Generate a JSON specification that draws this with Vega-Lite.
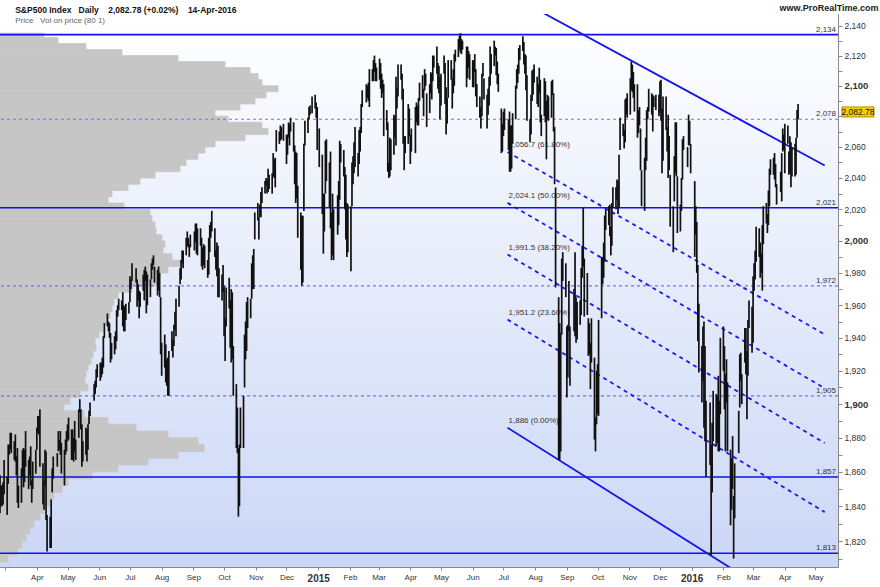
{
"$schema": "https://vega.github.io/schema/vega-lite/v6.json",
"width": 838, "height": 553,
"autosize": {"type": "none"},
"padding": {"top": 14, "left": 0, "right": 42, "bottom": 20},
"background": "#ffffff",
"config": {"font": "Liberation Sans", "view": {"stroke": "#9aa4ae", "strokeWidth": 1}},
"title": {"text": "S&P500 Index\u00a0\u00a0\u00a0Daily\u00a0\u00a0\u00a0\u00a02,082.78 (+0.02%)\u00a0\u00a0\u00a0\u00a014-Apr-2016", "subtitle": "Price\u00a0\u00a0\u00a0Vol on price (80 1)", "anchor": "start", "offset": -22, "dx": 16, "fontSize": 8.5, "fontWeight": "bold", "color": "#111", "subtitleFontSize": 8, "subtitleColor": "#666", "subtitlePadding": 3},
"datasets": {
"hist": [
{"lo":1808,"hi":1812,"v":8},{"lo":1812,"hi":1816,"v":18},{"lo":1816,"hi":1820,"v":22},{"lo":1820,"hi":1824,"v":26},{"lo":1824,"hi":1828,"v":30},{"lo":1828,"hi":1832,"v":34},{"lo":1832,"hi":1836,"v":40},{"lo":1836,"hi":1840,"v":44},{"lo":1840,"hi":1844,"v":50},{"lo":1844,"hi":1848,"v":54},{"lo":1848,"hi":1852,"v":62},{"lo":1852,"hi":1856,"v":68},{"lo":1856,"hi":1860,"v":92},{"lo":1860,"hi":1864,"v":118},{"lo":1864,"hi":1868,"v":148},{"lo":1868,"hi":1872,"v":178},{"lo":1872,"hi":1876,"v":204},{"lo":1876,"hi":1880,"v":198},{"lo":1880,"hi":1884,"v":168},{"lo":1884,"hi":1888,"v":136},{"lo":1888,"hi":1892,"v":108},{"lo":1892,"hi":1896,"v":84},{"lo":1896,"hi":1900,"v":64},{"lo":1900,"hi":1904,"v":70},{"lo":1904,"hi":1908,"v":80},{"lo":1908,"hi":1912,"v":88},{"lo":1912,"hi":1916,"v":85},{"lo":1916,"hi":1920,"v":86},{"lo":1920,"hi":1924,"v":88},{"lo":1924,"hi":1928,"v":91},{"lo":1928,"hi":1932,"v":93},{"lo":1932,"hi":1936,"v":96},{"lo":1936,"hi":1940,"v":95},{"lo":1940,"hi":1944,"v":99},{"lo":1944,"hi":1948,"v":103},{"lo":1948,"hi":1952,"v":107},{"lo":1952,"hi":1956,"v":110},{"lo":1956,"hi":1960,"v":112},{"lo":1960,"hi":1964,"v":114},{"lo":1964,"hi":1968,"v":118},{"lo":1968,"hi":1972,"v":132},{"lo":1972,"hi":1976,"v":157},{"lo":1976,"hi":1980,"v":160},{"lo":1980,"hi":1984,"v":168},{"lo":1984,"hi":1988,"v":182},{"lo":1988,"hi":1992,"v":172},{"lo":1992,"hi":1996,"v":163},{"lo":1996,"hi":2000,"v":165},{"lo":2000,"hi":2004,"v":162},{"lo":2004,"hi":2008,"v":156},{"lo":2008,"hi":2012,"v":155},{"lo":2012,"hi":2016,"v":152},{"lo":2016,"hi":2020,"v":150},{"lo":2020,"hi":2024,"v":124},{"lo":2024,"hi":2028,"v":108},{"lo":2028,"hi":2032,"v":112},{"lo":2032,"hi":2036,"v":128},{"lo":2036,"hi":2040,"v":140},{"lo":2040,"hi":2044,"v":155},{"lo":2044,"hi":2048,"v":180},{"lo":2048,"hi":2052,"v":186},{"lo":2052,"hi":2056,"v":198},{"lo":2056,"hi":2060,"v":205},{"lo":2060,"hi":2064,"v":215},{"lo":2064,"hi":2068,"v":245},{"lo":2068,"hi":2072,"v":268},{"lo":2072,"hi":2076,"v":262},{"lo":2076,"hi":2080,"v":228},{"lo":2080,"hi":2084,"v":215},{"lo":2084,"hi":2088,"v":240},{"lo":2088,"hi":2092,"v":255},{"lo":2092,"hi":2096,"v":266},{"lo":2096,"hi":2100,"v":278},{"lo":2100,"hi":2104,"v":262},{"lo":2104,"hi":2108,"v":258},{"lo":2108,"hi":2112,"v":250},{"lo":2112,"hi":2116,"v":225},{"lo":2116,"hi":2120,"v":178},{"lo":2120,"hi":2124,"v":122},{"lo":2124,"hi":2128,"v":86},{"lo":2128,"hi":2132,"v":58},{"lo":2132,"hi":2135,"v":44}
],
"solidLevels": [{"p":2134},{"p":2021},{"p":1857},{"p":1813}],
"dashedLevels": [{"p":2078},{"p":1972},{"p":1905}],
"levelLabels": [{"p":2134,"t":"2,134"},{"p":2078,"t":"2,078"},{"p":2021,"t":"2,021"},{"p":1972,"t":"1,972"},{"p":1905,"t":"1,905"},{"p":1857,"t":"1,857"},{"p":1813,"t":"1,813"}],
"channel": [
{"id":"f236","d":"2015-07-05","p":1951.2},{"id":"f236","d":"2016-05-10","p":1836.6},
{"id":"f382","d":"2015-07-05","p":1991.5},{"id":"f382","d":"2016-05-10","p":1876.9},
{"id":"f500","d":"2015-07-05","p":2024.1},{"id":"f500","d":"2016-05-10","p":1909.5},
{"id":"f618","d":"2015-07-05","p":2056.7},{"id":"f618","d":"2016-05-10","p":1942.1}
],
"trend": [
{"id":"f000","d":"2015-07-05","p":1886},{"id":"f000","d":"2016-05-10","p":1771.4},
{"id":"top","d":"2015-08-01","p":2151.6},{"id":"top","d":"2016-05-10","p":2048}
],
"fibLabels": [
{"d":"2015-07-05","p":1886,"t":"1,886 (0.00%)"},
{"d":"2015-07-05","p":1951.2,"t":"1,951.2 (23.60%)"},
{"d":"2015-07-05","p":1991.5,"t":"1,991.5 (38.20%)"},
{"d":"2015-07-05","p":2024.1,"t":"2,024.1 (50.00%)"},
{"d":"2015-07-05","p":2056.7,"t":"2,056.7 (61.80%)"}
],
"last": [{"p":2082.78,"t":"2,082.78"}],
"candles": [
{"d":"2014-02-24","h":1858,"l":1836},{"d":"2014-02-25","h":1852,"l":1840},{"d":"2014-02-26","h":1852,"l":1840},{"d":"2014-02-27","h":1854,"l":1841},{"d":"2014-02-28","h":1867,"l":1847},
{"d":"2014-03-03","h":1857,"l":1835},{"d":"2014-03-04","h":1876,"l":1853},{"d":"2014-03-05","h":1876,"l":1870},{"d":"2014-03-06","h":1883,"l":1873},{"d":"2014-03-07","h":1883,"l":1871},{"d":"2014-03-10","h":1878,"l":1867},{"d":"2014-03-11","h":1882,"l":1866},{"d":"2014-03-12","h":1869,"l":1858},{"d":"2014-03-13","h":1874,"l":1842},{"d":"2014-03-14","h":1852,"l":1839},{"d":"2014-03-17","h":1862,"l":1842},{"d":"2014-03-18","h":1873,"l":1857},{"d":"2014-03-19","h":1874,"l":1851},{"d":"2014-03-20","h":1873,"l":1854},{"d":"2014-03-21","h":1884,"l":1863},{"d":"2014-03-24","h":1867,"l":1850},{"d":"2014-03-25","h":1869,"l":1858},{"d":"2014-03-26","h":1875,"l":1852},{"d":"2014-03-27","h":1855,"l":1842},{"d":"2014-03-28","h":1866,"l":1850},{"d":"2014-03-31","h":1873,"l":1859},
{"d":"2014-04-01","h":1886,"l":1873},{"d":"2014-04-02","h":1893,"l":1883},{"d":"2014-04-03","h":1893,"l":1882},{"d":"2014-04-04","h":1897,"l":1863},{"d":"2014-04-07","h":1865,"l":1841},{"d":"2014-04-08","h":1855,"l":1838},{"d":"2014-04-09","h":1873,"l":1852},{"d":"2014-04-10","h":1872,"l":1832},{"d":"2014-04-11","h":1835,"l":1814},{"d":"2014-04-14","h":1834,"l":1816},{"d":"2014-04-15","h":1844,"l":1816},{"d":"2014-04-16","h":1862,"l":1848},{"d":"2014-04-17","h":1869,"l":1856},{"d":"2014-04-21","h":1871,"l":1863},{"d":"2014-04-22","h":1884,"l":1872},{"d":"2014-04-23","h":1879,"l":1873},{"d":"2014-04-24","h":1884,"l":1870},{"d":"2014-04-25","h":1877,"l":1859},{"d":"2014-04-28","h":1873,"l":1852},{"d":"2014-04-29","h":1879,"l":1870},{"d":"2014-04-30","h":1884,"l":1872},
{"d":"2014-05-01","h":1888,"l":1878},{"d":"2014-05-02","h":1892,"l":1879},{"d":"2014-05-05","h":1885,"l":1867},{"d":"2014-05-06","h":1885,"l":1867},{"d":"2014-05-07","h":1880,"l":1866},{"d":"2014-05-08","h":1890,"l":1872},{"d":"2014-05-09","h":1879,"l":1867},{"d":"2014-05-12","h":1897,"l":1880},{"d":"2014-05-13","h":1903,"l":1895},{"d":"2014-05-14","h":1897,"l":1885},{"d":"2014-05-15","h":1888,"l":1863},{"d":"2014-05-16","h":1878,"l":1866},{"d":"2014-05-19","h":1886,"l":1870},{"d":"2014-05-20","h":1885,"l":1866},{"d":"2014-05-21","h":1888,"l":1873},{"d":"2014-05-22","h":1896,"l":1888},{"d":"2014-05-23","h":1901,"l":1893},{"d":"2014-05-27","h":1912,"l":1902},{"d":"2014-05-28","h":1914,"l":1906},{"d":"2014-05-29","h":1921,"l":1910},{"d":"2014-05-30","h":1924,"l":1916},
{"d":"2014-06-02","h":1925,"l":1914},{"d":"2014-06-03","h":1925,"l":1916},{"d":"2014-06-04","h":1928,"l":1918},{"d":"2014-06-05","h":1941,"l":1922},{"d":"2014-06-06","h":1949,"l":1940},{"d":"2014-06-09","h":1955,"l":1947},{"d":"2014-06-10","h":1950,"l":1944},{"d":"2014-06-11","h":1949,"l":1940},{"d":"2014-06-12","h":1943,"l":1925},{"d":"2014-06-13","h":1937,"l":1927},{"d":"2014-06-16","h":1941,"l":1930},{"d":"2014-06-17","h":1944,"l":1933},{"d":"2014-06-18","h":1957,"l":1938},{"d":"2014-06-19","h":1960,"l":1953},{"d":"2014-06-20","h":1964,"l":1957},{"d":"2014-06-23","h":1963,"l":1957},{"d":"2014-06-24","h":1968,"l":1947},{"d":"2014-06-25","h":1960,"l":1944},{"d":"2014-06-26","h":1959,"l":1944},{"d":"2014-06-27","h":1961,"l":1951},{"d":"2014-06-30","h":1962,"l":1955},
{"d":"2014-07-01","h":1978,"l":1962},{"d":"2014-07-02","h":1976,"l":1970},{"d":"2014-07-03","h":1986,"l":1975},{"d":"2014-07-07","h":1983,"l":1974},{"d":"2014-07-08","h":1976,"l":1959},{"d":"2014-07-09","h":1973,"l":1963},{"d":"2014-07-10","h":1969,"l":1952},{"d":"2014-07-11","h":1968,"l":1959},{"d":"2014-07-14","h":1979,"l":1969},{"d":"2014-07-15","h":1982,"l":1963},{"d":"2014-07-16","h":1984,"l":1975},{"d":"2014-07-17","h":1981,"l":1955},{"d":"2014-07-18","h":1979,"l":1960},{"d":"2014-07-21","h":1976,"l":1965},{"d":"2014-07-22","h":1986,"l":1976},{"d":"2014-07-23","h":1989,"l":1982},{"d":"2014-07-24","h":1991,"l":1985},{"d":"2014-07-25","h":1984,"l":1974},{"d":"2014-07-28","h":1982,"l":1966},{"d":"2014-07-29","h":1984,"l":1969},{"d":"2014-07-30","h":1980,"l":1965},{"d":"2014-07-31","h":1965,"l":1930},
{"d":"2014-08-01","h":1937,"l":1917},{"d":"2014-08-04","h":1942,"l":1922},{"d":"2014-08-05","h":1936,"l":1913},{"d":"2014-08-06","h":1927,"l":1911},{"d":"2014-08-07","h":1928,"l":1905},{"d":"2014-08-08","h":1932,"l":1905},{"d":"2014-08-11","h":1944,"l":1932},{"d":"2014-08-12","h":1939,"l":1928},{"d":"2014-08-13","h":1948,"l":1935},{"d":"2014-08-14","h":1956,"l":1945},{"d":"2014-08-15","h":1964,"l":1941},{"d":"2014-08-18","h":1972,"l":1959},{"d":"2014-08-19","h":1983,"l":1973},{"d":"2014-08-20","h":1988,"l":1976},{"d":"2014-08-21","h":1994,"l":1986},{"d":"2014-08-22","h":1994,"l":1983},{"d":"2014-08-25","h":2002,"l":1991},{"d":"2014-08-26","h":2006,"l":1997},{"d":"2014-08-27","h":2002,"l":1996},{"d":"2014-08-28","h":1998,"l":1990},{"d":"2014-08-29","h":2004,"l":1996},
{"d":"2014-09-02","h":2006,"l":1994},{"d":"2014-09-03","h":2011,"l":1999},{"d":"2014-09-04","h":2011,"l":1992},{"d":"2014-09-05","h":2008,"l":1991},{"d":"2014-09-08","h":2008,"l":1997},{"d":"2014-09-09","h":2002,"l":1984},{"d":"2014-09-10","h":1996,"l":1982},{"d":"2014-09-11","h":1998,"l":1985},{"d":"2014-09-12","h":1997,"l":1983},{"d":"2014-09-15","h":1988,"l":1977},{"d":"2014-09-16","h":2002,"l":1979},{"d":"2014-09-17","h":2010,"l":1993},{"d":"2014-09-18","h":2012,"l":2002},{"d":"2014-09-19","h":2019,"l":2006},{"d":"2014-09-22","h":2008,"l":1990},{"d":"2014-09-23","h":1994,"l":1982},{"d":"2014-09-24","h":1999,"l":1978},{"d":"2014-09-25","h":1997,"l":1965},{"d":"2014-09-26","h":1983,"l":1965},{"d":"2014-09-29","h":1979,"l":1963},{"d":"2014-09-30","h":1985,"l":1968},
{"d":"2014-10-01","h":1972,"l":1941},{"d":"2014-10-02","h":1952,"l":1926},{"d":"2014-10-03","h":1971,"l":1947},{"d":"2014-10-06","h":1977,"l":1958},{"d":"2014-10-07","h":1963,"l":1934},{"d":"2014-10-08","h":1970,"l":1925},{"d":"2014-10-09","h":1968,"l":1927},{"d":"2014-10-10","h":1935,"l":1905},{"d":"2014-10-13","h":1912,"l":1874},{"d":"2014-10-14","h":1898,"l":1871},{"d":"2014-10-15","h":1874,"l":1834},{"d":"2014-10-16","h":1876,"l":1840},{"d":"2014-10-17","h":1898,"l":1874},{"d":"2014-10-20","h":1905,"l":1874},{"d":"2014-10-21","h":1942,"l":1910},{"d":"2014-10-22","h":1950,"l":1927},{"d":"2014-10-23","h":1962,"l":1932},{"d":"2014-10-24","h":1965,"l":1946},{"d":"2014-10-27","h":1964,"l":1952},{"d":"2014-10-28","h":1986,"l":1964},{"d":"2014-10-29","h":1991,"l":1970},{"d":"2014-10-30","h":1995,"l":1970},{"d":"2014-10-31","h":2018,"l":2001},
{"d":"2014-11-03","h":2024,"l":2013},{"d":"2014-11-04","h":2015,"l":2001},{"d":"2014-11-05","h":2023,"l":2015},{"d":"2014-11-06","h":2031,"l":2015},{"d":"2014-11-07","h":2034,"l":2024},{"d":"2014-11-10","h":2038,"l":2030},{"d":"2014-11-11","h":2040,"l":2035},{"d":"2014-11-12","h":2039,"l":2030},{"d":"2014-11-13","h":2046,"l":2031},{"d":"2014-11-14","h":2042,"l":2033},{"d":"2014-11-17","h":2043,"l":2030},{"d":"2014-11-18","h":2056,"l":2041},{"d":"2014-11-19","h":2052,"l":2040},{"d":"2014-11-20","h":2053,"l":2034},{"d":"2014-11-21","h":2071,"l":2057},{"d":"2014-11-24","h":2070,"l":2062},{"d":"2014-11-25","h":2074,"l":2064},{"d":"2014-11-26","h":2073,"l":2065},{"d":"2014-11-28","h":2075,"l":2064},
{"d":"2014-12-01","h":2068,"l":2049},{"d":"2014-12-02","h":2068,"l":2055},{"d":"2014-12-03","h":2076,"l":2066},{"d":"2014-12-04","h":2075,"l":2061},{"d":"2014-12-05","h":2079,"l":2070},{"d":"2014-12-08","h":2076,"l":2057},{"d":"2014-12-09","h":2061,"l":2036},{"d":"2014-12-10","h":2057,"l":2024},{"d":"2014-12-11","h":2056,"l":2027},{"d":"2014-12-12","h":2035,"l":2002},{"d":"2014-12-15","h":2018,"l":1982},{"d":"2014-12-16","h":2016,"l":1972},{"d":"2014-12-17","h":2016,"l":1974},{"d":"2014-12-18","h":2062,"l":2019},{"d":"2014-12-19","h":2077,"l":2061},{"d":"2014-12-22","h":2079,"l":2069},{"d":"2014-12-23","h":2086,"l":2078},{"d":"2014-12-24","h":2087,"l":2081},{"d":"2014-12-26","h":2093,"l":2082},{"d":"2014-12-29","h":2094,"l":2085},{"d":"2014-12-30","h":2089,"l":2079},{"d":"2014-12-31","h":2086,"l":2058},
{"d":"2015-01-02","h":2072,"l":2047},{"d":"2015-01-05","h":2055,"l":2017},{"d":"2015-01-06","h":2030,"l":1992},{"d":"2015-01-07","h":2030,"l":2006},{"d":"2015-01-08","h":2064,"l":2030},{"d":"2015-01-09","h":2065,"l":2038},{"d":"2015-01-12","h":2050,"l":2021},{"d":"2015-01-13","h":2057,"l":2008},{"d":"2015-01-14","h":2018,"l":1988},{"d":"2015-01-15","h":2030,"l":1991},{"d":"2015-01-16","h":2020,"l":1988},{"d":"2015-01-20","h":2029,"l":2004},{"d":"2015-01-21","h":2038,"l":2010},{"d":"2015-01-22","h":2064,"l":2026},{"d":"2015-01-23","h":2062,"l":2050},{"d":"2015-01-26","h":2058,"l":2041},{"d":"2015-01-27","h":2047,"l":2020},{"d":"2015-01-28","h":2042,"l":2001},{"d":"2015-01-29","h":2024,"l":1990},{"d":"2015-01-30","h":2023,"l":1993},
{"d":"2015-02-02","h":2022,"l":1981},{"d":"2015-02-03","h":2050,"l":2022},{"d":"2015-02-04","h":2054,"l":2036},{"d":"2015-02-05","h":2063,"l":2043},{"d":"2015-02-06","h":2073,"l":2047},{"d":"2015-02-09","h":2056,"l":2041},{"d":"2015-02-10","h":2071,"l":2049},{"d":"2015-02-11","h":2073,"l":2057},{"d":"2015-02-12","h":2088,"l":2069},{"d":"2015-02-13","h":2097,"l":2086},{"d":"2015-02-17","h":2101,"l":2089},{"d":"2015-02-18","h":2100,"l":2092},{"d":"2015-02-19","h":2102,"l":2090},{"d":"2015-02-20","h":2111,"l":2086},{"d":"2015-02-23","h":2111,"l":2103},{"d":"2015-02-24","h":2117,"l":2103},{"d":"2015-02-25","h":2120,"l":2109},{"d":"2015-02-26","h":2115,"l":2103},{"d":"2015-02-27","h":2112,"l":2103},
{"d":"2015-03-02","h":2118,"l":2104},{"d":"2015-03-03","h":2115,"l":2098},{"d":"2015-03-04","h":2108,"l":2092},{"d":"2015-03-05","h":2104,"l":2095},{"d":"2015-03-06","h":2101,"l":2067},{"d":"2015-03-09","h":2084,"l":2071},{"d":"2015-03-10","h":2076,"l":2044},{"d":"2015-03-11","h":2050,"l":2040},{"d":"2015-03-12","h":2066,"l":2041},{"d":"2015-03-13","h":2065,"l":2045},{"d":"2015-03-16","h":2081,"l":2055},{"d":"2015-03-17","h":2080,"l":2066},{"d":"2015-03-18","h":2106,"l":2061},{"d":"2015-03-19","h":2099,"l":2085},{"d":"2015-03-20","h":2114,"l":2093},{"d":"2015-03-23","h":2114,"l":2104},{"d":"2015-03-24","h":2108,"l":2091},{"d":"2015-03-25","h":2098,"l":2062},{"d":"2015-03-26","h":2067,"l":2045},{"d":"2015-03-27","h":2067,"l":2056},{"d":"2015-03-30","h":2088,"l":2062},{"d":"2015-03-31","h":2085,"l":2067},
{"d":"2015-04-01","h":2068,"l":2049},{"d":"2015-04-02","h":2072,"l":2057},{"d":"2015-04-06","h":2086,"l":2056},{"d":"2015-04-07","h":2089,"l":2076},{"d":"2015-04-08","h":2087,"l":2074},{"d":"2015-04-09","h":2092,"l":2074},{"d":"2015-04-10","h":2102,"l":2090},{"d":"2015-04-13","h":2107,"l":2092},{"d":"2015-04-14","h":2098,"l":2080},{"d":"2015-04-15","h":2111,"l":2097},{"d":"2015-04-16","h":2108,"l":2100},{"d":"2015-04-17","h":2095,"l":2073},{"d":"2015-04-20","h":2101,"l":2082},{"d":"2015-04-21","h":2109,"l":2095},{"d":"2015-04-22","h":2108,"l":2091},{"d":"2015-04-23","h":2120,"l":2103},{"d":"2015-04-24","h":2120,"l":2112},{"d":"2015-04-27","h":2126,"l":2108},{"d":"2015-04-28","h":2115,"l":2098},{"d":"2015-04-29","h":2113,"l":2095},{"d":"2015-04-30","h":2106,"l":2078},
{"d":"2015-05-01","h":2108,"l":2087},{"d":"2015-05-04","h":2120,"l":2108},{"d":"2015-05-05","h":2115,"l":2088},{"d":"2015-05-06","h":2099,"l":2068},{"d":"2015-05-07","h":2092,"l":2075},{"d":"2015-05-08","h":2117,"l":2092},{"d":"2015-05-11","h":2117,"l":2104},{"d":"2015-05-12","h":2105,"l":2085},{"d":"2015-05-13","h":2111,"l":2095},{"d":"2015-05-14","h":2121,"l":2100},{"d":"2015-05-15","h":2124,"l":2116},{"d":"2015-05-18","h":2131,"l":2119},{"d":"2015-05-19","h":2133,"l":2124},{"d":"2015-05-20","h":2135,"l":2122},{"d":"2015-05-21","h":2131,"l":2121},{"d":"2015-05-22","h":2130,"l":2124},{"d":"2015-05-26","h":2126,"l":2099},{"d":"2015-05-27","h":2126,"l":2105},{"d":"2015-05-28","h":2123,"l":2112},{"d":"2015-05-29","h":2121,"l":2104},
{"d":"2015-06-01","h":2117,"l":2099},{"d":"2015-06-02","h":2117,"l":2099},{"d":"2015-06-03","h":2121,"l":2109},{"d":"2015-06-04","h":2111,"l":2093},{"d":"2015-06-05","h":2101,"l":2086},{"d":"2015-06-08","h":2093,"l":2079},{"d":"2015-06-09","h":2086,"l":2072},{"d":"2015-06-10","h":2108,"l":2080},{"d":"2015-06-11","h":2115,"l":2106},{"d":"2015-06-12","h":2105,"l":2091},{"d":"2015-06-15","h":2094,"l":2072},{"d":"2015-06-16","h":2098,"l":2081},{"d":"2015-06-17","h":2106,"l":2087},{"d":"2015-06-18","h":2126,"l":2100},{"d":"2015-06-19","h":2121,"l":2108},{"d":"2015-06-22","h":2130,"l":2113},{"d":"2015-06-23","h":2126,"l":2120},{"d":"2015-06-24","h":2125,"l":2107},{"d":"2015-06-25","h":2116,"l":2101},{"d":"2015-06-26","h":2108,"l":2096},{"d":"2015-06-29","h":2085,"l":2056},{"d":"2015-06-30","h":2075,"l":2057},
{"d":"2015-07-01","h":2083,"l":2067},{"d":"2015-07-02","h":2085,"l":2071},{"d":"2015-07-06","h":2078,"l":2058},{"d":"2015-07-07","h":2083,"l":2044},{"d":"2015-07-08","h":2074,"l":2044},{"d":"2015-07-09","h":2074,"l":2046},{"d":"2015-07-10","h":2082,"l":2062},{"d":"2015-07-13","h":2100,"l":2078},{"d":"2015-07-14","h":2111,"l":2098},{"d":"2015-07-15","h":2114,"l":2102},{"d":"2015-07-16","h":2125,"l":2108},{"d":"2015-07-17","h":2127,"l":2117},{"d":"2015-07-20","h":2133,"l":2123},{"d":"2015-07-21","h":2129,"l":2114},{"d":"2015-07-22","h":2121,"l":2108},{"d":"2015-07-23","h":2120,"l":2097},{"d":"2015-07-24","h":2107,"l":2077},{"d":"2015-07-27","h":2078,"l":2063},{"d":"2015-07-28","h":2094,"l":2068},{"d":"2015-07-29","h":2110,"l":2090},{"d":"2015-07-30","h":2111,"l":2094},{"d":"2015-07-31","h":2114,"l":2102},
{"d":"2015-08-03","h":2106,"l":2088},{"d":"2015-08-04","h":2101,"l":2086},{"d":"2015-08-05","h":2112,"l":2095},{"d":"2015-08-06","h":2104,"l":2076},{"d":"2015-08-07","h":2081,"l":2067},{"d":"2015-08-10","h":2105,"l":2080},{"d":"2015-08-11","h":2103,"l":2076},{"d":"2015-08-12","h":2090,"l":2052},{"d":"2015-08-13","h":2094,"l":2078},{"d":"2015-08-14","h":2093,"l":2077},{"d":"2015-08-17","h":2103,"l":2079},{"d":"2015-08-18","h":2104,"l":2094},{"d":"2015-08-19","h":2095,"l":2070},{"d":"2015-08-20","h":2073,"l":2036},{"d":"2015-08-21","h":2034,"l":1971},{"d":"2015-08-24","h":1965,"l":1867},{"d":"2015-08-25","h":1949,"l":1867},{"d":"2015-08-26","h":1943,"l":1872},{"d":"2015-08-27","h":1989,"l":1942},{"d":"2015-08-28","h":1993,"l":1975},{"d":"2015-08-31","h":1986,"l":1965},
{"d":"2015-09-01","h":1947,"l":1904},{"d":"2015-09-02","h":1948,"l":1916},{"d":"2015-09-03","h":1975,"l":1944},{"d":"2015-09-04","h":1947,"l":1911},{"d":"2015-09-08","h":1970,"l":1944},{"d":"2015-09-09","h":1993,"l":1941},{"d":"2015-09-10","h":1965,"l":1937},{"d":"2015-09-11","h":1962,"l":1939},{"d":"2015-09-14","h":1963,"l":1948},{"d":"2015-09-15","h":1983,"l":1954},{"d":"2015-09-16","h":1997,"l":1977},{"d":"2015-09-17","h":2021,"l":1984},{"d":"2015-09-18","h":1989,"l":1953},{"d":"2015-09-21","h":1980,"l":1954},{"d":"2015-09-22","h":1952,"l":1929},{"d":"2015-09-23","h":1949,"l":1930},{"d":"2015-09-24","h":1937,"l":1909},{"d":"2015-09-25","h":1952,"l":1925},{"d":"2015-09-28","h":1928,"l":1879},{"d":"2015-09-29","h":1892,"l":1872},{"d":"2015-09-30","h":1920,"l":1888},
{"d":"2015-10-01","h":1924,"l":1894},{"d":"2015-10-02","h":1951,"l":1893},{"d":"2015-10-05","h":1990,"l":1952},{"d":"2015-10-06","h":1990,"l":1973},{"d":"2015-10-07","h":1999,"l":1977},{"d":"2015-10-08","h":2016,"l":1987},{"d":"2015-10-09","h":2020,"l":2007},{"d":"2015-10-12","h":2022,"l":2010},{"d":"2015-10-13","h":2023,"l":2003},{"d":"2015-10-14","h":2009,"l":1991},{"d":"2015-10-15","h":2024,"l":1997},{"d":"2015-10-16","h":2034,"l":2021},{"d":"2015-10-19","h":2034,"l":2020},{"d":"2015-10-20","h":2039,"l":2026},{"d":"2015-10-21","h":2038,"l":2017},{"d":"2015-10-22","h":2055,"l":2021},{"d":"2015-10-23","h":2079,"l":2058},{"d":"2015-10-26","h":2075,"l":2067},{"d":"2015-10-27","h":2071,"l":2059},{"d":"2015-10-28","h":2091,"l":2063},{"d":"2015-10-29","h":2092,"l":2081},{"d":"2015-10-30","h":2095,"l":2079},
{"d":"2015-11-02","h":2105,"l":2081},{"d":"2015-11-03","h":2116,"l":2097},{"d":"2015-11-04","h":2114,"l":2096},{"d":"2015-11-05","h":2109,"l":2092},{"d":"2015-11-06","h":2101,"l":2083},{"d":"2015-11-09","h":2101,"l":2066},{"d":"2015-11-10","h":2084,"l":2069},{"d":"2015-11-11","h":2086,"l":2074},{"d":"2015-11-12","h":2072,"l":2045},{"d":"2015-11-13","h":2045,"l":2022},{"d":"2015-11-16","h":2053,"l":2019},{"d":"2015-11-17","h":2066,"l":2045},{"d":"2015-11-18","h":2084,"l":2051},{"d":"2015-11-19","h":2086,"l":2078},{"d":"2015-11-20","h":2098,"l":2083},{"d":"2015-11-23","h":2095,"l":2081},{"d":"2015-11-24","h":2094,"l":2070},{"d":"2015-11-25","h":2093,"l":2086},{"d":"2015-11-27","h":2094,"l":2084},{"d":"2015-11-30","h":2094,"l":2080},
{"d":"2015-12-01","h":2103,"l":2082},{"d":"2015-12-02","h":2104,"l":2077},{"d":"2015-12-03","h":2085,"l":2043},{"d":"2015-12-04","h":2093,"l":2051},{"d":"2015-12-07","h":2093,"l":2071},{"d":"2015-12-08","h":2073,"l":2057},{"d":"2015-12-09","h":2081,"l":2040},{"d":"2015-12-10","h":2067,"l":2045},{"d":"2015-12-11","h":2042,"l":2009},{"d":"2015-12-14","h":2022,"l":1993},{"d":"2015-12-15","h":2054,"l":2025},{"d":"2015-12-16","h":2076,"l":2043},{"d":"2015-12-17","h":2076,"l":2041},{"d":"2015-12-18","h":2041,"l":2005},{"d":"2015-12-21","h":2023,"l":2006},{"d":"2015-12-22","h":2040,"l":2019},{"d":"2015-12-23","h":2065,"l":2039},{"d":"2015-12-24","h":2067,"l":2058},{"d":"2015-12-28","h":2060,"l":2047},{"d":"2015-12-29","h":2081,"l":2061},{"d":"2015-12-30","h":2077,"l":2061},{"d":"2015-12-31","h":2062,"l":2043},
{"d":"2016-01-04","h":2038,"l":1990},{"d":"2016-01-05","h":2022,"l":2004},{"d":"2016-01-06","h":2012,"l":1980},{"d":"2016-01-07","h":1985,"l":1938},{"d":"2016-01-08","h":1961,"l":1919},{"d":"2016-01-11","h":1935,"l":1901},{"d":"2016-01-12","h":1947,"l":1914},{"d":"2016-01-13","h":1950,"l":1886},{"d":"2016-01-14","h":1935,"l":1878},{"d":"2016-01-15","h":1902,"l":1857},{"d":"2016-01-19","h":1901,"l":1864},{"d":"2016-01-20","h":1876,"l":1812},{"d":"2016-01-21","h":1889,"l":1848},{"d":"2016-01-22","h":1908,"l":1878},{"d":"2016-01-25","h":1906,"l":1875},{"d":"2016-01-26","h":1905,"l":1877},{"d":"2016-01-27","h":1917,"l":1872},{"d":"2016-01-28","h":1902,"l":1872},{"d":"2016-01-29","h":1940,"l":1894},
{"d":"2016-02-01","h":1947,"l":1920},{"d":"2016-02-02","h":1935,"l":1897},{"d":"2016-02-03","h":1918,"l":1872},{"d":"2016-02-04","h":1927,"l":1901},{"d":"2016-02-05","h":1913,"l":1872},{"d":"2016-02-08","h":1873,"l":1829},{"d":"2016-02-09","h":1868,"l":1838},{"d":"2016-02-10","h":1881,"l":1850},{"d":"2016-02-11","h":1846,"l":1810},{"d":"2016-02-12","h":1865,"l":1833},{"d":"2016-02-16","h":1896,"l":1871},{"d":"2016-02-17","h":1930,"l":1898},{"d":"2016-02-18","h":1931,"l":1914},{"d":"2016-02-19","h":1918,"l":1900},{"d":"2016-02-22","h":1946,"l":1925},{"d":"2016-02-23","h":1946,"l":1918},{"d":"2016-02-24","h":1932,"l":1891},{"d":"2016-02-25","h":1951,"l":1917},{"d":"2016-02-26","h":1963,"l":1946},{"d":"2016-02-29","h":1959,"l":1931},
{"d":"2016-03-01","h":1978,"l":1937},{"d":"2016-03-02","h":1986,"l":1969},{"d":"2016-03-03","h":1994,"l":1976},{"d":"2016-03-04","h":2009,"l":1987},{"d":"2016-03-07","h":2008,"l":1990},{"d":"2016-03-08","h":1999,"l":1977},{"d":"2016-03-09","h":1992,"l":1980},{"d":"2016-03-10","h":2010,"l":1969},{"d":"2016-03-11","h":2022,"l":1998},{"d":"2016-03-14","h":2024,"l":2011},{"d":"2016-03-15","h":2017,"l":2005},{"d":"2016-03-16","h":2032,"l":2010},{"d":"2016-03-17","h":2046,"l":2022},{"d":"2016-03-18","h":2052,"l":2042},{"d":"2016-03-21","h":2053,"l":2042},{"d":"2016-03-22","h":2056,"l":2039},{"d":"2016-03-23","h":2049,"l":2034},{"d":"2016-03-24","h":2036,"l":2023},{"d":"2016-03-28","h":2044,"l":2031},{"d":"2016-03-29","h":2056,"l":2025},{"d":"2016-03-30","h":2072,"l":2057},{"d":"2016-03-31","h":2068,"l":2058},
{"d":"2016-04-01","h":2075,"l":2043},{"d":"2016-04-04","h":2074,"l":2062},{"d":"2016-04-05","h":2057,"l":2042},{"d":"2016-04-06","h":2067,"l":2043},{"d":"2016-04-07","h":2063,"l":2034},{"d":"2016-04-08","h":2060,"l":2041},{"d":"2016-04-11","h":2062,"l":2041},{"d":"2016-04-12","h":2066,"l":2042},{"d":"2016-04-13","h":2084,"l":2066},{"d":"2016-04-14","h":2088,"l":2078}
]
},
"resolve": {"scale": {"x": "independent"}, "axis": {"x": "independent"}},
"layer": [
{
"data": {"values": [{}]},
"mark": {"type": "rect", "color": {"gradient": "linear", "x1": 0, "y1": 0, "x2": 0, "y2": 1, "stops": [{"offset": 0, "color": "#ffffff"}, {"offset": 1, "color": "#cbd7f6"}]}},
"encoding": {}
},
{
"data": {"name": "hist"},
"mark": {"type": "rect", "color": "#c6c6c6", "stroke": "#c6c6c6", "strokeWidth": 0.8, "clip": true},
"encoding": {
"x": {"field": "v", "type": "quantitative", "scale": {"domain": [0, 838]}, "axis": null},
"x2": {"datum": 0},
"y": {"field": "lo", "type": "quantitative", "scale": {"type": "log", "domain": [1805.2, 2147.9], "nice": false},
"axis": {"orient": "right", "values": [1810,1820,1830,1840,1850,1860,1870,1880,1890,1900,1910,1920,1930,1940,1950,1960,1970,1980,1990,2000,2010,2020,2030,2040,2050,2060,2070,2080,2090,2100,2110,2120,2130,2140], "labelExpr": "(datum.value % 20 == 0 && datum.value != 2080) ? format(datum.value, ',') : ''", "labelFontWeight": {"condition": {"test": "datum.value==1900 || datum.value==2000 || datum.value==2100", "value": "bold"}, "value": "normal"}, "labelFontSize": {"condition": {"test": "datum.value==1900 || datum.value==2000 || datum.value==2100", "value": 9.5}, "value": 8.5}, "labelColor": "#333", "tickSize": 4, "labelPadding": 2, "grid": false, "tickColor": "#888", "domainColor": "#888", "labelOverlap": false, "title": "www.ProRealTime.com", "titleAngle": 0, "titleAlign": "right", "titleBaseline": "alphabetic", "titleX": 40, "titleY": -4, "titleFontSize": 9, "titleFontWeight": "bold", "titleColor": "#222"}},
"y2": {"field": "hi"}
}
},
{
"layer": [
{
"data": {"name": "levelLabels"},
"mark": {"type": "text", "align": "right", "baseline": "bottom", "dx": -2, "dy": -1, "fontSize": 8, "color": "#333"},
"encoding": {
"x": {"datum": {"year": 2016, "month": 5, "date": 23, "utc": true}, "type": "temporal", "scale": {"type": "utc", "domain": [{"year": 2014, "month": 2, "date": 24, "utc": true}, {"year": 2016, "month": 5, "date": 23, "utc": true}]},
"axis": {"orient": "bottom", "tickCount": {"interval": "month", "step": 1}, "labelExpr": "datum.value < utc(2014,2,15) ? '' : (utcmonth(datum.value)==0 ? utcFormat(datum.value,'%Y') : utcFormat(datum.value,'%b'))", "labelFontWeight": {"condition": {"test": "utcmonth(datum.value)==0", "value": "bold"}, "value": "normal"}, "labelFontSize": {"condition": {"test": "utcmonth(datum.value)==0", "value": 10}, "value": 8}, "labelColor": "#333", "grid": false, "tickSize": 3, "labelPadding": 3, "tickColor": "#888", "domainColor": "#888", "labelOverlap": false, "title": "© ProRealTime.com", "titleX": 2, "titleY": -2, "titleAlign": "left", "titleBaseline": "alphabetic", "titleFontSize": 8, "titleFontWeight": "normal", "titleColor": "#444"}},
"y": {"field": "p", "type": "quantitative", "scale": {"type": "log", "domain": [1805.2, 2147.9], "nice": false}},
"text": {"field": "t"}
}
},
{
"data": {"name": "dashedLevels"},
"mark": {"type": "rule", "color": "#6f6fff", "strokeWidth": 1.2, "strokeDash": [3, 3]},
"encoding": {"y": {"field": "p", "type": "quantitative", "scale": {"type": "log", "domain": [1805.2, 2147.9], "nice": false}}}
},
{
"data": {"name": "solidLevels"},
"mark": {"type": "rule", "color": "#1010f0", "strokeWidth": 1.6},
"encoding": {"y": {"field": "p", "type": "quantitative", "scale": {"type": "log", "domain": [1805.2, 2147.9], "nice": false}}}
},
{
"data": {"name": "channel"},
"mark": {"type": "line", "color": "#1a1aee", "strokeWidth": 1.8, "strokeDash": [4, 4], "clip": true},
"encoding": {
"x": {"field": "d", "type": "temporal", "scale": {"type": "utc", "domain": [{"year": 2014, "month": 2, "date": 24, "utc": true}, {"year": 2016, "month": 5, "date": 23, "utc": true}]}},
"y": {"field": "p", "type": "quantitative", "scale": {"type": "log", "domain": [1805.2, 2147.9], "nice": false}},
"detail": {"field": "id"}
}
},
{
"data": {"name": "trend"},
"mark": {"type": "line", "color": "#1515e8", "strokeWidth": 1.8, "clip": true},
"encoding": {
"x": {"field": "d", "type": "temporal", "scale": {"type": "utc", "domain": [{"year": 2014, "month": 2, "date": 24, "utc": true}, {"year": 2016, "month": 5, "date": 23, "utc": true}]}},
"y": {"field": "p", "type": "quantitative", "scale": {"type": "log", "domain": [1805.2, 2147.9], "nice": false}},
"detail": {"field": "id"}
}
},
{
"data": {"name": "fibLabels"},
"mark": {"type": "text", "align": "left", "baseline": "bottom", "dx": 1, "dy": -3, "fontSize": 8, "color": "#333"},
"encoding": {
"x": {"field": "d", "type": "temporal", "scale": {"type": "utc", "domain": [{"year": 2014, "month": 2, "date": 24, "utc": true}, {"year": 2016, "month": 5, "date": 23, "utc": true}]}},
"y": {"field": "p", "type": "quantitative", "scale": {"type": "log", "domain": [1805.2, 2147.9], "nice": false}},
"text": {"field": "t"}
}
},
{
"data": {"name": "candles"},
"mark": {"type": "rule", "color": "#111111", "strokeWidth": 1.7, "clip": true},
"encoding": {
"x": {"field": "d", "type": "temporal", "scale": {"type": "utc", "domain": [{"year": 2014, "month": 2, "date": 24, "utc": true}, {"year": 2016, "month": 5, "date": 23, "utc": true}]}},
"y": {"field": "l", "type": "quantitative", "scale": {"type": "log", "domain": [1805.2, 2147.9], "nice": false}},
"y2": {"field": "h"}
}
},
{
"data": {"name": "last"},
"mark": {"type": "point", "shape": "M-1,-0.3125L1,-0.3125L1,0.3125L-1,0.3125Z", "size": 1024, "filled": true, "fill": "#f5d000", "stroke": "#b09000", "strokeWidth": 1, "opacity": 1, "clip": false},
"encoding": {
"x": {"datum": {"year": 2016, "month": 6, "date": 11, "hours": 12, "utc": true}, "type": "temporal", "scale": {"type": "utc", "domain": [{"year": 2014, "month": 2, "date": 24, "utc": true}, {"year": 2016, "month": 5, "date": 23, "utc": true}]}},
"y": {"field": "p", "type": "quantitative", "scale": {"type": "log", "domain": [1805.2, 2147.9], "nice": false}}
}
},
{
"data": {"name": "last"},
"mark": {"type": "text", "align": "center", "baseline": "middle", "fontSize": 8.5, "color": "#111", "clip": false},
"encoding": {
"x": {"datum": {"year": 2016, "month": 6, "date": 11, "hours": 12, "utc": true}, "type": "temporal", "scale": {"type": "utc", "domain": [{"year": 2014, "month": 2, "date": 24, "utc": true}, {"year": 2016, "month": 5, "date": 23, "utc": true}]}},
"y": {"field": "p", "type": "quantitative", "scale": {"type": "log", "domain": [1805.2, 2147.9], "nice": false}},
"text": {"field": "t"}
}
}
]
}
]
}
